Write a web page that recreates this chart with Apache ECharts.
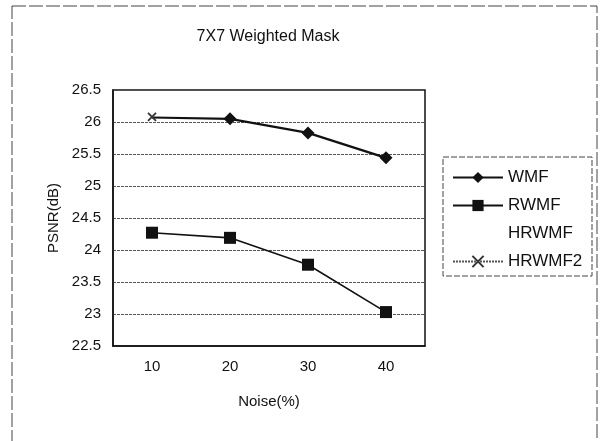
<!DOCTYPE html>
<html><head><meta charset="utf-8">
<script src="https://cdn.jsdelivr.net/npm/echarts@6/dist/echarts.min.js"></script>
<style>html,body{margin:0;padding:0;background:#fff}#c{width:600px;height:441px}</style>
</head><body><div id="c"></div>
<script>
var categories = ['10', '20', '30', '40'];
var wmf = [26.07, 26.05, 25.83, 25.44];
var rwmf = [24.27, 24.19, 23.77, 23.03];
var hrwmf = [];
var hrwmf2 = [26.08, '-', '-', '-'];
var seriesNames = ['WMF', 'RWMF', 'HRWMF', 'HRWMF2'];
var titleText = '7X7 Weighted Mask';
var xName = 'Noise(%)';
var yName = 'PSNR(dB)';

var font = 'Arial, "Liberation Sans", sans-serif';
var chart = echarts.init(document.getElementById('c'), null, {renderer: 'canvas'});
var xMark = 'path://M0,0L10,10M10,0L0,10';
chart.setOption({
  animation: false,
  backgroundColor: '#fff',
  title: {text: titleText, left: 263, top: 24, textAlign: 'center',
    textStyle: {fontFamily: font, fontWeight: 'normal', fontSize: 16, color: '#111'}},
  grid: {left: 113, right: 175, top: 90, bottom: 95, show: true, borderColor: '#111', borderWidth: 1.5, backgroundColor: 'transparent'},
  xAxis: {type: 'category', data: categories, boundaryGap: true,
    name: xName, nameLocation: 'middle', nameGap: 48,
    nameTextStyle: {fontFamily: font, fontSize: 15, color: '#111'},
    axisLine: {lineStyle: {color: '#111', width: 1.5}},
    axisTick: {show: false},
    axisLabel: {fontFamily: font, fontSize: 15, color: '#111', margin: 13}},
  yAxis: {type: 'value', min: 22.5, max: 26.5, interval: 0.5,
    name: yName, nameLocation: 'middle', nameGap: 50,
    nameTextStyle: {fontFamily: font, fontSize: 15, color: '#111'},
    axisLine: {show: true, lineStyle: {color: '#111', width: 1.5}},
    axisTick: {show: false},
    axisLabel: {fontFamily: font, fontSize: 15, color: '#111', margin: 12},
    splitLine: {show: true, lineStyle: {color: '#555', width: 1, type: [3, 1]}}},
  legend: {orient: 'vertical', left: 447, top: 164, itemWidth: 50, itemHeight: 14, itemGap: 11,
    data: seriesNames,
    textStyle: {fontFamily: font, fontSize: 17, color: '#111', padding: [0, 0, 0, 0]}},
  series: [
    {name: seriesNames[0], type: 'line', data: wmf.map(function(v, i){ return i === 0 ? {value: v, symbolSize: 0} : v; }),
      symbol: 'diamond', symbolSize: 13,
      lineStyle: {color: '#111', width: 2.2}, itemStyle: {color: '#111'}, z: 3},
    {name: seriesNames[1], type: 'line', data: rwmf, symbol: 'rect', symbolSize: 12,
      lineStyle: {color: '#111', width: 1.6}, itemStyle: {color: '#111'}, z: 3},
    {name: seriesNames[2], type: 'line', data: hrwmf, symbol: 'none',
      lineStyle: {color: '#fff', opacity: 0}, itemStyle: {color: '#fff', opacity: 0}},
    {name: seriesNames[3], type: 'line', data: hrwmf2, symbol: xMark, symbolSize: 8,
      lineStyle: {color: '#555', width: 1.2, type: [2, 1]},
      itemStyle: {color: 'rgba(0,0,0,0)', borderColor: '#333', borderWidth: 1.8}, z: 4}
  ],
  graphic: [
    {type: 'rect', shape: {x: 12, y: 6, width: 585, height: 450}, silent: true,
      style: {fill: 'none', stroke: '#444', lineWidth: 1, lineDash: [14, 3]}},
    {type: 'rect', shape: {x: 443, y: 157, width: 149, height: 119}, silent: true,
      style: {fill: 'none', stroke: '#444', lineWidth: 1, lineDash: [6, 2]}}
  ]
});
</script></body></html>
